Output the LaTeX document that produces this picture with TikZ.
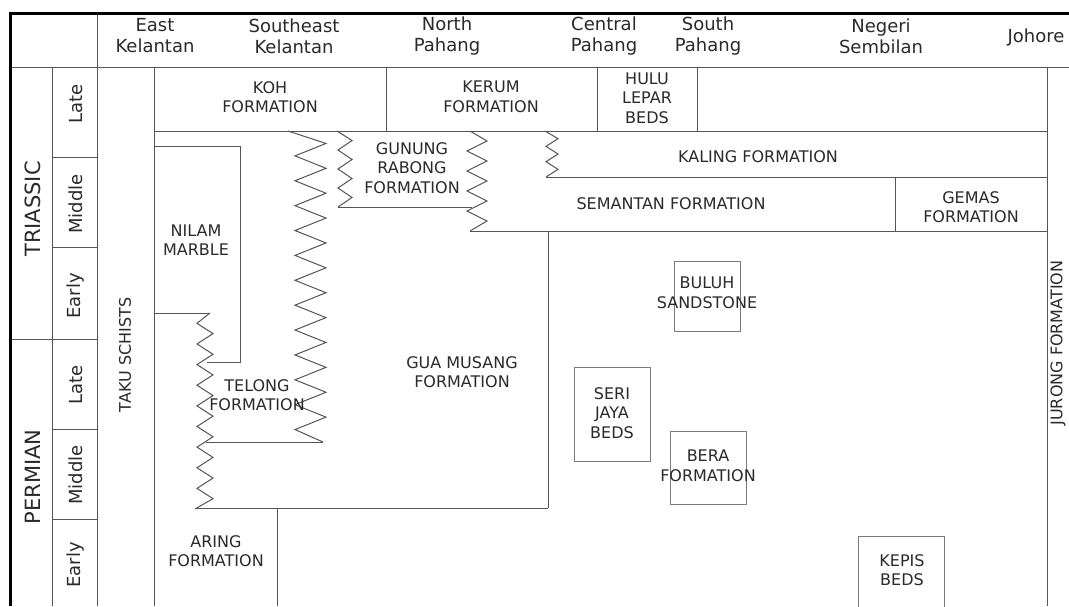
\documentclass[tikz,border=0pt]{standalone}
\usepackage{fontspec}
\setmainfont{DejaVu Sans}
\definecolor{linec}{HTML}{555555}
\definecolor{boxc}{HTML}{7A7A7A}
\definecolor{textc}{HTML}{2A2A2A}
\begin{document}
\begin{tikzpicture}[x=1pt,y=-1pt,
  ln/.style={draw=linec, line width=1pt},
  lbox/.style={draw=boxc, line width=0.9pt},
  zz/.style={draw=linec, line width=1pt, line join=miter},
  thk/.style={draw=black, line width=3pt},
  lab/.style={text=textc, font=\fontsize{16}{19.5}\selectfont, align=center, inner sep=0pt},
  hdr/.style={text=textc, font=\fontsize{18}{21}\selectfont, align=center, inner sep=0pt},
  per/.style={text=textc, font=\fontsize{21}{24}\selectfont, inner sep=0pt, rotate=90},
  epo/.style={text=textc, font=\fontsize{18}{21}\selectfont, inner sep=0pt, rotate=90},
  vlab/.style={text=textc, font=\fontsize{16}{19}\selectfont, inner sep=0pt, rotate=90}]
\useasboundingbox (0,0) rectangle (1069,606);
\fill[white] (0,0) rectangle (1069,606);

% grid / frame
\draw[ln] (10,67) -- (1069,67);
\draw[ln] (97,13) -- (97,606);
\draw[ln] (52,67) -- (52,606);
\draw[ln] (10,339) -- (97,339);
\foreach \yy in {157,247,429,519} \draw[ln] (52,\yy) -- (97,\yy);
\draw[ln] (154,67) -- (154,606);
\draw[ln] (154,131) -- (1047,131);
\draw[ln] (386,67) -- (386,131);
\draw[ln] (597,67) -- (597,131);
\draw[ln] (697,67) -- (697,131);
\draw[ln] (1047,67) -- (1047,606);
\draw[thk] (10,606) -- (10,13) -- (1069,13);

% Nilam marble
\draw[ln] (154,146) -- (240,146) -- (240,362) -- (207,362);
% Telong
\draw[ln] (154,313) -- (210,313);
\draw[zz] (210,313) \foreach \i in {1,...,18} { -- ({197+16*mod(\i+1,2)},{313+10.316*\i}) } -- (195,509);
\draw[ln] (206,442) -- (323,442);
% long zigzag
\draw[zz] (288,131) \foreach \i in {1,...,24} { -- ({295+31*mod(\i,2)},{131+12.44*\i}) } -- (323,442);
% Gunung Rabong
\draw[zz] (337,131) \foreach \i in {1,...,7} { -- ({338+14*mod(\i,2)},{131+9.5*\i}) } -- (338,207);
\draw[ln] (338,207) -- (472,207);
\draw[zz] (470,131) \foreach \i in {1,...,9} { -- ({467+20*mod(\i,2)},{131+10*\i}) } -- (470,231);
% Kaling
\draw[zz] (545,131) \foreach \i in {1,...,5} { -- ({546+12*mod(\i,2)},{131+7.67*\i}) } -- (546,177);
\draw[ln] (546,177) -- (1047,177);
\draw[ln] (895,177) -- (895,231);
% Semantan / Gua Musang / Aring
\draw[ln] (470,231) -- (1047,231);
\draw[ln] (548,231) -- (548,508);
\draw[ln] (195,508) -- (548,508);
\draw[ln] (277,508) -- (277,606);
% small boxes
\draw[lbox] (674,261) rectangle (740,331);
\draw[lbox] (574,367) rectangle (650,461);
\draw[lbox] (670,431) rectangle (746,504);
\draw[lbox] (858,536) rectangle (944,612);

% header
\node[hdr] (hEK) at (155,36) {East\\Kelantan};
\node[hdr] (hSK) at (294,36) {Southeast\\Kelantan};
\node[hdr] (hNP) at (447,36) {North\\Pahang};
\node[hdr] (hCP) at (604,36) {Central\\Pahang};
\node[hdr] (hSP) at (708,36) {South\\Pahang};
\node[hdr] (hNS) at (881,36) {Negeri\\Sembilan};
\node[hdr] (hJO) at (1036,37) {Johore};

% periods and epochs
\node[per] (tri) at (33,209) {TRIASSIC};
\node[per] (per) at (33,477) {PERMIAN};
\node[epo] (tL) at (76,104) {Late};
\node[epo] (tM) at (76,204) {Middle};
\node[epo] (tE) at (76,296) {Early};
\node[epo] (pL) at (76,385) {Late};
\node[epo] (pM) at (76,475) {Middle};
\node[epo] (pE) at (76,565) {Early};

% formations
\node[vlab] (taku) at (125,355) {TAKU SCHISTS};
\node[vlab] (jur) at (1058,343) {JURONG FORMATION};
\node[lab] (koh) at (270,97) {KOH\\FORMATION};
\node[lab] (ker) at (491,97) {KERUM\\FORMATION};
\node[lab] (hulu) at (647,98) {HULU\\LEPAR\\BEDS};
\node[lab] (gun) at (412,168) {GUNUNG\\RABONG\\FORMATION};
\node[lab] (kal) at (758,157) {KALING FORMATION};
\node[lab] (sem) at (671,204) {SEMANTAN FORMATION};
\node[lab] (gem) at (971,207) {GEMAS\\FORMATION};
\node[lab] (nil) at (196,240) {NILAM\\MARBLE};
\node[lab] (bul) at (707,293) {BULUH\\SANDSTONE};
\node[lab] (gua) at (462,372) {GUA MUSANG\\FORMATION};
\node[lab] (ser) at (612,413) {SERI\\JAYA\\BEDS};
\node[lab] (ber) at (708,466) {BERA\\FORMATION};
\node[lab] (tel) at (257,395) {TELONG\\FORMATION};
\node[lab] (ari) at (216,551) {ARING\\FORMATION};
\node[lab] (kep) at (902,570) {KEPIS\\BEDS};
\end{tikzpicture}
\end{document}
